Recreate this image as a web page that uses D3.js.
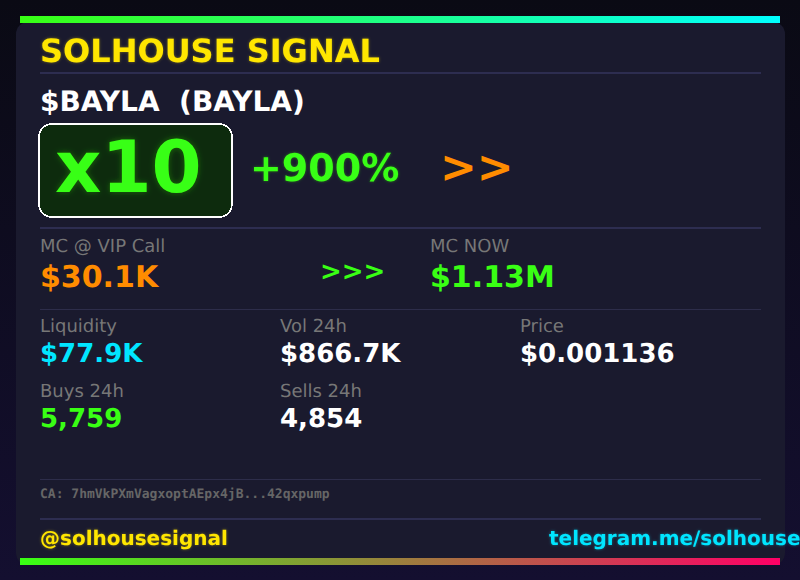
<!DOCTYPE html>
<html>
<head>
<meta charset="utf-8">
<script src="https://cdn.jsdelivr.net/npm/d3@7"></script>
<style>
html, body { margin: 0; padding: 0; background: #0a0a14; }
svg { display: block; font-family: "DejaVu Sans", sans-serif; text-rendering: geometricPrecision; }
</style>
</head>
<body>
<svg id="canvas"></svg>
<script>
// dimensions
let width = 800
let height = 580

// card content
let title = 'SOLHOUSE SIGNAL'
let tokenName = '$BAYLA  (BAYLA)'
let multiple = 'x10'
let gain = '+900%'
let contract = 'CA: 7hmVkPXmVagxoptAEpx4jB...42qxpump'
let handle = '@solhousesignal'
let link = 'telegram.me/solhouse'

let mcLabels = ['MC @ VIP Call', 'MC NOW']
let mcValues = ['$30.1K', '$1.13M']
let mcColors = ['#ff8c00', '#39ff14']

let statLabels = ['Liquidity', 'Vol 24h', 'Price', 'Buys 24h', 'Sells 24h']
let statValues = ['$77.9K', '$866.7K', '$0.001136', '5,759', '4,854']
let statColors = ['#00e5ff', '#ffffff', '#ffffff', '#39ff14', '#ffffff']
let statColumns = [0, 1, 2, 0, 1]
let statRows = [0, 0, 0, 1, 1]

let ruleRows = [73, 228, 309, 479, 519]
let ruleColors = ['#2d2d50', '#2d2d50', '#2d2d4a', '#2d2d4a', '#2d2d50']

let svg = d3.select('#canvas')
            .attr('width', width)
            .attr('height', height)

let defs = svg.append('defs')

let addGradient = (id, x1, y1, x2, y2, stops) => {
    let gradient = defs.append('linearGradient')
                       .attr('id', id)
                       .attr('gradientUnits', 'userSpaceOnUse')
                       .attr('x1', x1).attr('y1', y1)
                       .attr('x2', x2).attr('y2', y2)
    gradient.selectAll('stop')
            .data(stops)
            .enter()
            .append('stop')
            .attr('offset', (d, i) => i / (stops.length - 1))
            .attr('stop-color', (d) => d)
}

// soft halo behind the text, fainter than the text itself
let addGlow = (id, blur, strength) => {
    let filter = defs.append('filter')
                     .attr('id', id)
                     .attr('x', '-20%').attr('y', '-50%')
                     .attr('width', '140%').attr('height', '200%')
    filter.append('feGaussianBlur')
          .attr('in', 'SourceGraphic')
          .attr('stdDeviation', blur)
          .attr('result', 'blur')
    filter.append('feComponentTransfer')
          .attr('in', 'blur')
          .attr('result', 'faint')
          .append('feFuncA')
          .attr('type', 'linear')
          .attr('slope', strength)
    let merge = filter.append('feMerge')
    merge.append('feMergeNode').attr('in', 'faint')
    merge.append('feMergeNode').attr('in', 'SourceGraphic')
}

addGradient('page', 0, 0, 0, height, ['#0a0a14', '#140f30'])
addGradient('topBar', 20, 0, 780, 0, ['#39ff14', '#00ffff'])
addGradient('bottomBar', 20, 0, 780, 0, ['#39ff14', '#ff0066'])
addGlow('glow', 1.5, 0.4)
addGlow('bigGlow', 3, 0.3)

svg.append('rect').attr('width', width).attr('height', height).attr('fill', 'url(#page)')

// card and the two bars
svg.append('rect')
   .attr('x', 16).attr('y', 22)
   .attr('width', 769).attr('height', 543)
   .attr('rx', 12)
   .attr('fill', '#1a1a2e')

svg.append('rect').attr('x', 20).attr('y', 16).attr('width', 760).attr('height', 7).attr('fill', 'url(#topBar)')
svg.append('rect').attr('x', 20).attr('y', 558).attr('width', 760).attr('height', 7).attr('fill', 'url(#bottomBar)')

// horizontal rules
svg.selectAll('.rule')
   .data(ruleRows)
   .enter()
   .append('line')
   .attr('class', 'rule')
   .attr('x1', 40).attr('x2', 761)
   .attr('y1', (d) => d).attr('y2', (d) => d)
   .attr('stroke', (d, i) => ruleColors[i])
   .attr('stroke-width', (d, i) => (i === 2 || i === 3) ? 1 : 2)
   .attr('shape-rendering', 'crispEdges')

let addText = (str, x, y, size, color, weight, glow) => {
    let t = svg.append('text')
               .text(str)
               .attr('x', x).attr('y', y)
               .attr('font-size', size)
               .attr('font-weight', weight || 'bold')
               .attr('fill', color)
               .style('white-space', 'pre')
    if (glow) t.attr('filter', 'url(#' + glow + ')')
    return t
}

addText(title, 40, 62, 32, '#ffe600', 'bold', 'glow')
addText(tokenName, 40, 111, 28, '#ffffff')

// multiple badge
svg.append('rect')
   .attr('x', 39).attr('y', 124)
   .attr('width', 193).attr('height', 93)
   .attr('rx', 13)
   .attr('fill', '#0d2b0d')
   .attr('stroke', '#ffffff')
   .attr('stroke-width', 1.5)
   .attr('shape-rendering', 'crispEdges')

addText(multiple, 55, 192, 72, '#39ff14', 'bold', 'bigGlow')
addText(gain, 250, 181, 38, '#39ff14', 'bold', 'glow')
addText('>>', 440, 182, 44, '#ff8c00')

// market cap row
let mcX = d3.scalePoint().domain(d3.range(mcLabels.length)).range([40, 430])

svg.selectAll('.mcLabel')
   .data(mcLabels)
   .enter()
   .append('text')
   .attr('class', 'mcLabel')
   .attr('x', (d, i) => mcX(i)).attr('y', 252)
   .attr('font-size', 18)
   .attr('fill', '#777777')
   .text((d) => d)

svg.selectAll('.mcValue')
   .data(mcValues)
   .enter()
   .append('text')
   .attr('class', 'mcValue')
   .attr('x', (d, i) => mcX(i)).attr('y', 287)
   .attr('font-size', 30)
   .attr('font-weight', 'bold')
   .attr('fill', (d, i) => mcColors[i])
   .text((d) => d)

addText('>>>', 320, 280, 26, '#39ff14')

// stats grid
let statX = d3.scalePoint().domain([0, 1, 2]).range([40, 520])
let statY = d3.scalePoint().domain([0, 1]).range([332, 397])

svg.selectAll('.statLabel')
   .data(statLabels)
   .enter()
   .append('text')
   .attr('class', 'statLabel')
   .attr('x', (d, i) => statX(statColumns[i]))
   .attr('y', (d, i) => statY(statRows[i]))
   .attr('font-size', 18)
   .attr('fill', '#777777')
   .text((d) => d)

svg.selectAll('.statValue')
   .data(statValues)
   .enter()
   .append('text')
   .attr('class', 'statValue')
   .attr('x', (d, i) => statX(statColumns[i]))
   .attr('y', (d, i) => statY(statRows[i]) + 30)
   .attr('font-size', 26)
   .attr('font-weight', 'bold')
   .attr('fill', (d, i) => statColors[i])
   .text((d) => d)

// footer
addText(contract, 40, 498, 13, '#666666').style('font-family', '"DejaVu Sans Mono", monospace')
addText(handle, 40, 545, 20, '#ffe600', 'bold', 'glow')
addText(link, 549, 545, 20, '#00e5ff', 'bold', 'glow')
</script>
</body>
</html>
